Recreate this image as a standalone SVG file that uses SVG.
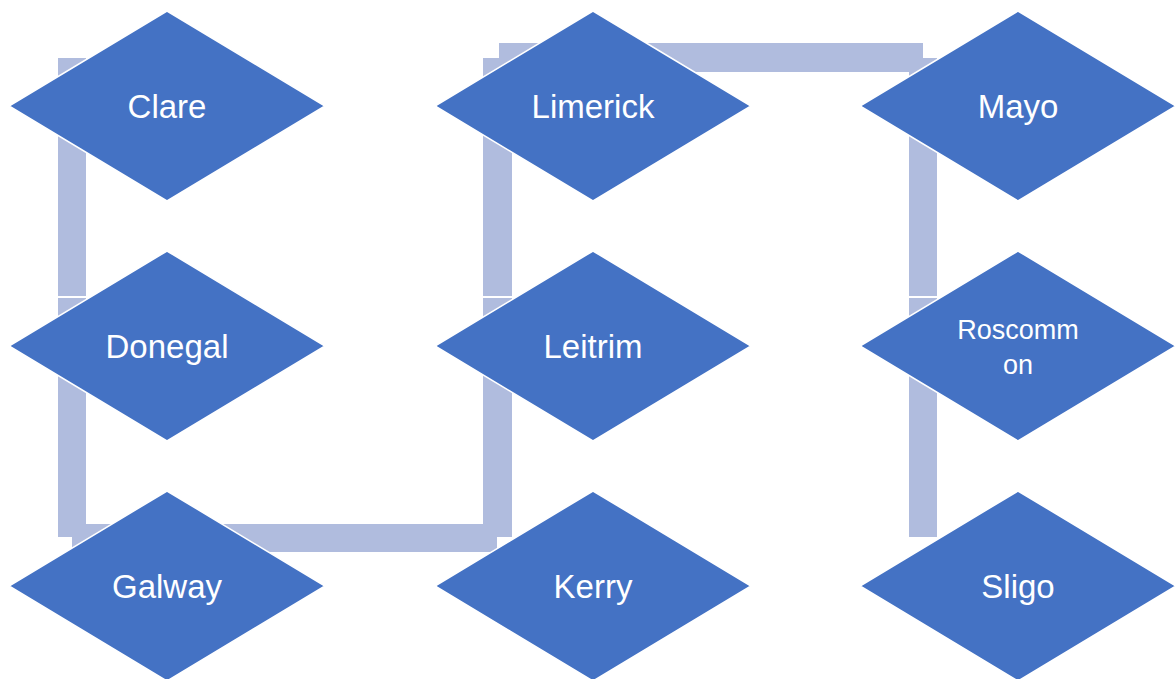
<svg xmlns="http://www.w3.org/2000/svg" width="1176" height="679" viewBox="0 0 1176 679">
<style>
.bar{fill:#B0BCDE}
.sep{stroke:#FFFFFF;stroke-width:2}
.dia{fill:#4472C4;stroke:#FFFFFF;stroke-width:1.5}
.lbl{fill:#FFFFFF;font-family:"Liberation Sans","Open Sans",sans-serif;font-size:33px;text-anchor:middle}
.sm{font-size:27px}
</style>
<rect width="1176" height="679" fill="#FFFFFF"/>
<g id="connectors">
<rect class="bar" x="58" y="58" width="28" height="479"/>
<line class="sep" x1="58" y1="297" x2="86" y2="297"/>
<rect class="bar" x="72" y="524" width="425" height="28"/>
<rect class="bar" x="483" y="58" width="29" height="479"/>
<line class="sep" x1="483" y1="297" x2="512" y2="297"/>
<rect class="bar" x="499" y="43" width="424" height="29"/>
<rect class="bar" x="909" y="58" width="28" height="479"/>
<line class="sep" x1="909" y1="297" x2="937" y2="297"/>
</g>
<g id="clare"><polygon class="dia" points="167,11 325,106 167,201 9,106"/><text class="lbl" x="167" y="118">Clare</text></g>
<g id="donegal"><polygon class="dia" points="167,251 325,346 167,441 9,346"/><text class="lbl" x="167" y="358">Donegal</text></g>
<g id="galway"><polygon class="dia" points="167,491 325,586 167,681 9,586"/><text class="lbl" x="167" y="598">Galway</text></g>
<g id="limerick"><polygon class="dia" points="593,11 751,106 593,201 435,106"/><text class="lbl" x="593" y="118">Limerick</text></g>
<g id="leitrim"><polygon class="dia" points="593,251 751,346 593,441 435,346"/><text class="lbl" x="593" y="358">Leitrim</text></g>
<g id="kerry"><polygon class="dia" points="593,491 751,586 593,681 435,586"/><text class="lbl" x="593" y="598">Kerry</text></g>
<g id="mayo"><polygon class="dia" points="1018,11 1176,106 1018,201 860,106"/><text class="lbl" x="1018" y="118">Mayo</text></g>
<g id="roscommon"><polygon class="dia" points="1018,251 1176,346 1018,441 860,346"/><text class="lbl sm" x="1018" y="339">Roscomm</text><text class="lbl sm" x="1018" y="374">on</text></g>
<g id="sligo"><polygon class="dia" points="1018,491 1176,586 1018,681 860,586"/><text class="lbl" x="1018" y="598">Sligo</text></g>
</svg>
